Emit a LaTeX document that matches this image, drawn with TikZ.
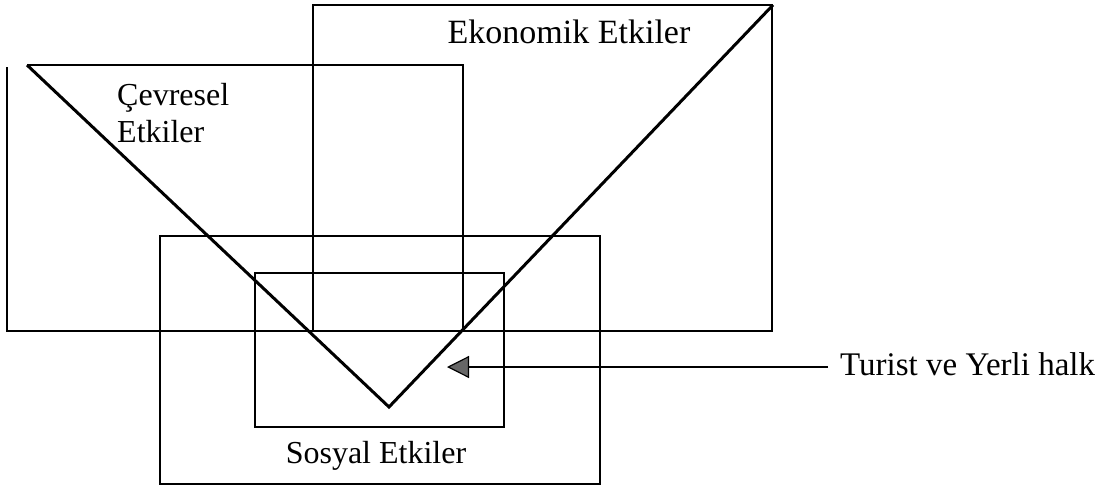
\documentclass[tikz,border=0pt]{standalone}
\usepackage{fontspec}
\setmainfont{Liberation Serif}
\usetikzlibrary{arrows.meta}
\tikzset{
  box/.style={draw=black, line width=1.5pt},
  vee/.style={draw=black, line width=3pt, line join=miter},
  lbl/.style={inner sep=0pt, font=\fontsize{32}{37}\selectfont},
  pointer/.style={draw=black, line width=1.3pt,
    -{Triangle[length=22pt,width=22pt,fill=black!60,line width=1.2pt]}}
}
\begin{document}
\begin{tikzpicture}[x=1pt,y=-1pt]
\useasboundingbox (0,0) rectangle (1109,488);
% coordinates
\coordinate (vl) at (27,65);
\coordinate (vb) at (389,407);
\coordinate (vr) at (773,5);
\coordinate (tip) at (447,367);
% Cevresel rectangle (open top-left corner)
\draw[box] (7,67) -- (7,331) -- (463,331) -- (463,65) -- (vl);
% Ekonomik rectangle
\draw[box] (313,5) rectangle (772,331);
% Sosyal outer rectangle
\draw[box] (160,236) rectangle (600,484);
% inner rectangle
\draw[box] (255,273) rectangle (504,427);
% V shape
\draw[vee] (vl) -- (vb) -- (vr);
% labels
\node[lbl, anchor=base, font=\fontsize{34}{39}\selectfont] (eko) at (569,43) {Ekonomik Etkiler};
\node[lbl, anchor=base west] (cev1) at (117,105) {Çevresel};
\node[lbl, anchor=base west] (cev2) at (117,142) {Etkiler};
\node[lbl, anchor=base] (sos) at (376,463) {Sosyal Etkiler};
\node[lbl, anchor=base west, font=\fontsize{33}{38}\selectfont] (tur) at (840,375) {Turist ve Yerli halk};
% arrow
\draw[pointer] (tur.west |- tip) ++(-12,0) -- (tip);
\end{tikzpicture}
\end{document}
